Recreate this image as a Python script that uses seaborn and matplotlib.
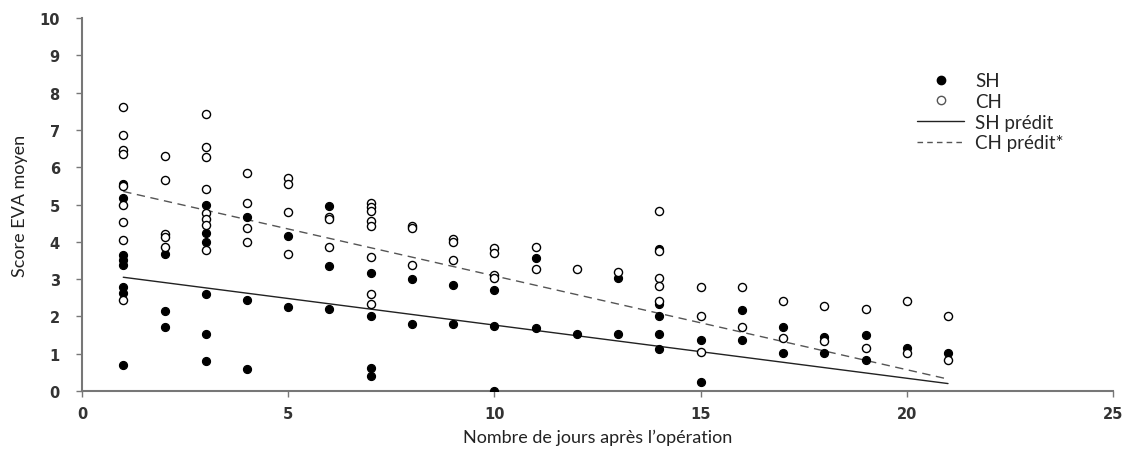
import matplotlib
matplotlib.use("Agg")
import matplotlib.pyplot as plt
from matplotlib.lines import Line2D
import seaborn as sns
import pandas as pd

# ---- data ----
sh_days = [1]*8 + [2]*3 + [3]*6 + [4]*3 + [5]*2 + [6]*3 + [7]*4 + [8]*2 + [9]*2 + [10]*3 \
    + [11]*2 + [12] + [13]*2 + [14]*5 + [15]*2 + [16]*2 + [17]*2 + [18]*2 + [19]*2 + [20] + [21]
sh_scores = [5.56, 5.17, 3.64, 3.50, 3.37, 2.79, 2.62, 0.71,
             3.67, 2.15, 1.72,
             5.00, 4.24, 4.00, 2.61, 1.52, 0.80,
             4.67, 2.45, 0.60,
             4.15, 2.26,
             4.96, 3.35, 2.21,
             3.17, 2.01, 0.61, 0.40,
             3.00, 1.80,
             2.84, 1.81,
             2.70, 1.75, 0.00,
             3.57, 1.68,
             1.54,
             3.03, 1.54,
             3.80, 2.32, 2.01, 1.52, 1.12,
             1.37, 0.23,
             2.16, 1.37,
             1.72, 1.03,
             1.46, 1.03,
             1.50, 0.83,
             1.16,
             1.02]

ch_days = [1]*9 + [2]*5 + [3]*8 + [4]*4 + [5]*4 + [6]*3 + [7]*8 + [8]*3 + [9]*3 + [10]*4 \
    + [11]*2 + [12] + [13] + [14]*5 + [15]*3 + [16]*2 + [17]*2 + [18]*2 + [19]*2 + [20]*2 + [21]*2
ch_scores = [7.61, 6.85, 6.45, 6.36, 5.50, 5.00, 4.53, 4.05, 2.44,
             6.30, 5.67, 4.20, 4.12, 3.87,
             7.43, 6.54, 6.27, 5.42, 4.78, 4.62, 4.45, 3.77,
             5.85, 5.05, 4.37, 4.00,
             5.72, 5.56, 4.80, 3.68,
             4.67, 4.60, 3.87,
             5.05, 4.92, 4.83, 4.56, 4.42, 3.60, 2.61, 2.34,
             4.42, 4.36, 3.38,
             4.08, 4.00, 3.52,
             3.84, 3.70, 3.12, 3.02,
             3.85, 3.27,
             3.28,
             3.19,
             4.82, 3.75, 3.02, 2.81, 2.41,
             2.80, 2.01, 1.05,
             2.80, 1.72,
             2.41, 1.43,
             2.27, 1.33,
             2.20, 1.15,
             2.40, 1.02,
             2.02, 0.83]

pred_days = [1, 21]
sh_pred = [3.05, 0.20]
ch_pred = [5.35, 0.32]

x_ticks = [0, 5, 10, 15, 20, 25]
y_ticks = list(range(0, 11))
x_label = "Nombre de jours après l\u2019opération"
y_label = "Score EVA moyen"
legend_labels = ["SH", "CH", "SH prédit", "CH prédit*"]

# ---- plotting ----
sns.set_theme(style="white")
plt.rcParams["font.family"] = ["DejaVu Sans"]

fig = plt.figure(figsize=(11.33, 4.52), dpi=100)
ax = fig.add_axes([0.0724, 0.1327, 0.9099, 0.8253])

sh_df = pd.DataFrame({"day": sh_days, "score": sh_scores})
ch_df = pd.DataFrame({"day": ch_days, "score": ch_scores})
pred_df = pd.DataFrame({"day": pred_days, "sh": sh_pred, "ch": ch_pred})

sns.lineplot(data=pred_df, x="day", y="sh", ax=ax, color="#222222", linewidth=1.0, zorder=2)
sns.lineplot(data=pred_df, x="day", y="ch", ax=ax, color="#555555", linewidth=1.0,
             linestyle=(0, (6, 4)), zorder=2)
sns.scatterplot(data=sh_df, x="day", y="score", ax=ax, marker="o", s=34,
                color="black", edgecolor="black", linewidth=0.8, zorder=3)
sns.scatterplot(data=ch_df, x="day", y="score", ax=ax, marker="o", s=34,
                facecolor="white", edgecolor="black", linewidth=1.0, zorder=4)

ax.set_xlim(0, 25)
ax.set_ylim(0, 10)
ax.set_xticks(x_ticks)
ax.set_yticks(y_ticks)
ax.set_xticklabels([str(t) for t in x_ticks], fontsize=10.5, fontweight="bold", color="#333333")
ax.set_yticklabels([str(t) for t in y_ticks], fontsize=10.5, fontweight="bold", color="#333333")
ax.tick_params(axis="both", direction="out", length=4, width=1, color="#777777",
               bottom=True, left=True)
ax.tick_params(axis="y", pad=12)
ax.tick_params(axis="x", pad=7)
ax.set_xlabel(x_label, fontsize=13, family=["Lato", "DejaVu Sans"], color="#222222", labelpad=5)
ax.set_ylabel(y_label, fontsize=13, family=["Lato", "DejaVu Sans"], color="#222222", labelpad=8)

for side in ["top", "right"]:
    ax.spines[side].set_visible(False)
for side in ["left", "bottom"]:
    ax.spines[side].set_color("#777777")
    ax.spines[side].set_linewidth(1.5)
ax.grid(False)

handles = [
    Line2D([], [], marker="o", linestyle="none", markersize=6,
           markerfacecolor="black", markeredgecolor="black"),
    Line2D([], [], marker="o", linestyle="none", markersize=6,
           markerfacecolor="white", markeredgecolor="#555555"),
    Line2D([], [], color="#222222", linewidth=1.0),
    Line2D([], [], color="#555555", linewidth=1.0, linestyle=(0, (4, 3))),
]
leg = ax.legend(handles, legend_labels, loc="upper left", bbox_to_anchor=(0.803, 0.875),
                frameon=False, prop={"family": ["Lato", "DejaVu Sans"], "size": 13.5},
                handlelength=2.5, handletextpad=0.6, labelspacing=0.2, borderaxespad=0)

fig.savefig("out.png", dpi=100, facecolor="white")
